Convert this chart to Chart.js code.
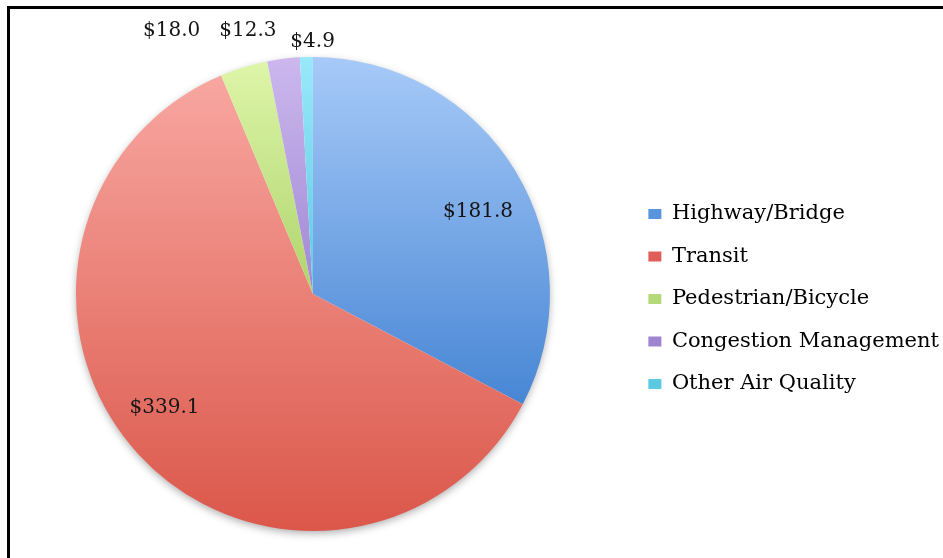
<!DOCTYPE html>
<html>
<head>
<meta charset="utf-8">
<script src="https://cdn.jsdelivr.net/npm/chart.js@4.4.1/dist/chart.umd.min.js"></script>
<style>
  html, body { margin: 0; padding: 0; background: #fff; overflow: hidden; }
  #pieChart { display: block; }
</style>
</head>
<body>
<canvas id="pieChart" width="943" height="558"></canvas>
<script>
const categories = ["Highway/Bridge", "Transit", "Pedestrian/Bicycle", "Congestion Management", "Other Air Quality"];
const amounts = [181.8, 339.1, 18.0, 12.3, 4.9];

// light (top) / dark (bottom) for each slice, plus how far down the pie the gradient runs
const lightColors = ["#a7caf8", "#f9aaa4", "#def6aa", "#ccb8ee", "#9ae8fa"];
const darkColors = ["#4987d5", "#db574a", "#afd46c", "#a187d4", "#5cc8e3"];
const gradEnd = [0.72, 1.0, 0.5, 0.5, 0.5];
const legendColors = ["#5a94dc", "#e05e57", "#b4d97a", "#9f85cf", "#5cc9e2"];

// label tweaks: inside labels sit at 0.77 of the radius, small ones go outside
const labelNudge = [[9, 12], [-14, -10], [-64, -10], [-32, 0], [7, 13]];

function sliceFill(context) {
    const chart = context.chart;
    const area = chart.chartArea;
    const i = context.dataIndex;
    if (!area) return legendColors[i];
    const h = area.bottom - area.top;
    const g = chart.ctx.createLinearGradient(0, area.top, 0, area.top + h * gradEnd[i]);
    g.addColorStop(0, lightColors[i]);
    g.addColorStop(1, darkColors[i]);
    return g;
}

// white background plus the left/top frame lines of the original crop
const frame = {
    id: "frame",
    beforeDraw(chart) {
        const ctx = chart.ctx;
        ctx.save();
        ctx.fillStyle = "#fff";
        ctx.fillRect(0, 0, chart.width, chart.height);
        ctx.fillStyle = "#000";
        ctx.fillRect(7, 6, 3, chart.height);
        ctx.fillRect(7, 6, chart.width, 3);
        ctx.restore();
    }
};

const pieShadow = {
    id: "pieShadow",
    beforeDatasetsDraw(chart) {
        const arc = chart.getDatasetMeta(0).data[0];
        if (!arc) return;
        const ctx = chart.ctx;
        ctx.save();
        ctx.shadowColor = "rgba(0,0,0,0.35)";
        ctx.shadowBlur = 8;
        ctx.shadowOffsetY = 3;
        ctx.fillStyle = "#fff";
        ctx.beginPath();
        ctx.arc(arc.x, arc.y, arc.outerRadius - 1, 0, Math.PI * 2);
        ctx.fill();
        ctx.restore();
    }
};

// nudge the legend block a little right and down
const legendShift = {
    id: "legendShift",
    afterLayout(chart) {
        const lg = chart.legend;
        lg.left += 9; lg.right += 9;
        lg.top += 5; lg.bottom += 5;
    }
};

const sliceLabels = {
    id: "sliceLabels",
    afterDatasetsDraw(chart) {
        const ctx = chart.ctx;
        const meta = chart.getDatasetMeta(0);
        const total = amounts.reduce((a, b) => a + b, 0);
        ctx.save();
        ctx.font = "20px 'DejaVu Serif'";
        ctx.fillStyle = "#151515";
        ctx.textAlign = "center";
        ctx.textBaseline = "middle";
        meta.data.forEach((arc, i) => {
            const mid = (arc.startAngle + arc.endAngle) / 2;
            const r = amounts[i] / total > 0.1 ? arc.outerRadius * 0.77 : arc.outerRadius + 28;
            const x = arc.x + Math.cos(mid) * r + labelNudge[i][0];
            const y = arc.y + Math.sin(mid) * r + labelNudge[i][1];
            ctx.fillText("$" + amounts[i].toFixed(1), x, y);
        });
        ctx.restore();
    }
};

new Chart(document.getElementById("pieChart"), {
    type: "pie",
    data: {
        labels: categories,
        datasets: [{
            data: amounts,
            backgroundColor: sliceFill,
            borderWidth: 0
        }]
    },
    options: {
        responsive: false,
        animation: false,
        layout: { padding: { top: 57, bottom: 27, left: 8, right: 3 } },
        plugins: {
            tooltip: { enabled: false },
            legend: {
                position: "right",
                labels: {
                    color: "#111",
                    font: { family: "DejaVu Serif", size: 21 },
                    boxWidth: 13,
                    boxHeight: 10,
                    padding: 21.5,
                    generateLabels(chart) {
                        return categories.map((c, i) => ({
                            text: c,
                            fillStyle: legendColors[i],
                            strokeStyle: legendColors[i],
                            lineWidth: 0,
                            hidden: false,
                            index: i
                        }));
                    }
                }
            }
        }
    },
    plugins: [frame, pieShadow, sliceLabels, legendShift]
});
</script>
</body>
</html>
